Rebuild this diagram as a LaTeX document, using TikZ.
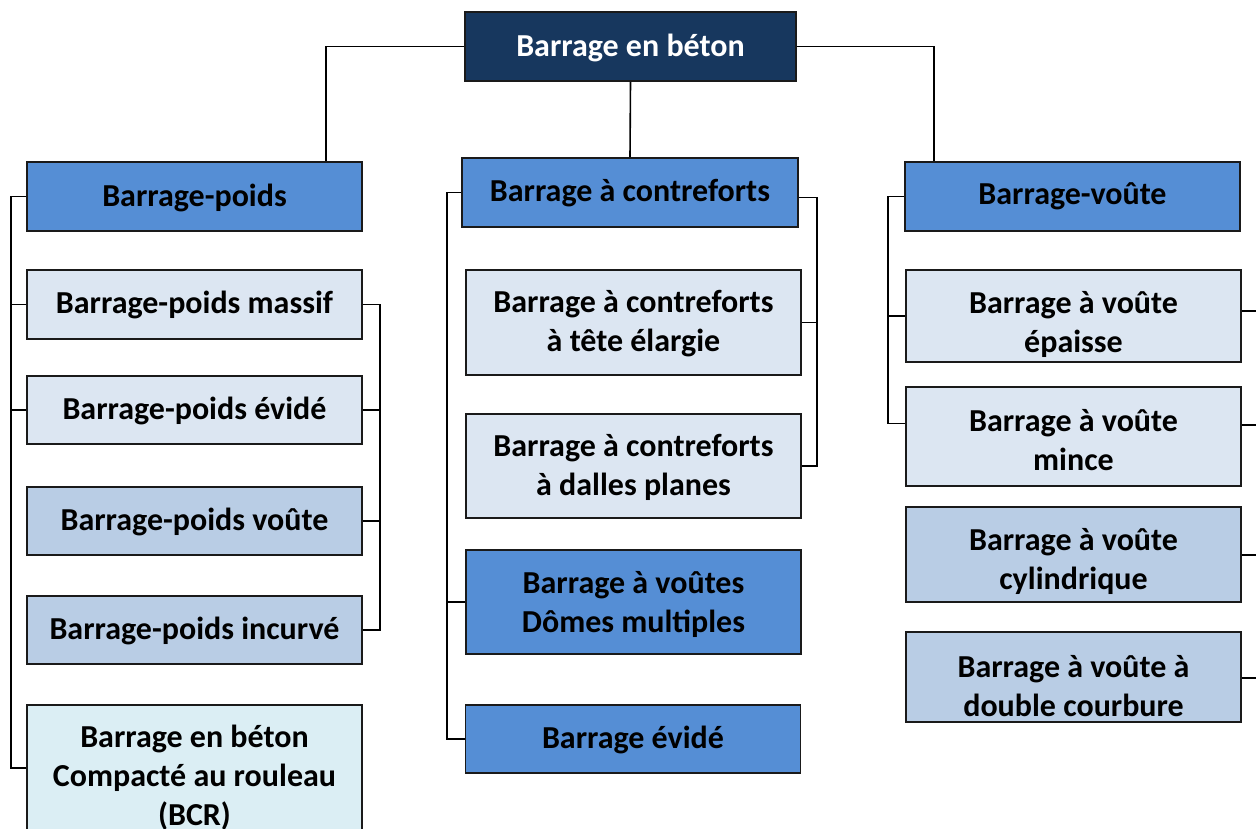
\documentclass[tikz,border=0pt]{standalone}
\usepackage{fontspec}
\setmainfont{Carlito}
\definecolor{rootc}{HTML}{17375E}
\definecolor{midc}{HTML}{558ED5}
\definecolor{lightc}{HTML}{DCE6F2}
\definecolor{medlc}{HTML}{B9CDE5}
\definecolor{bcrc}{HTML}{DBEEF4}
\definecolor{edgec}{HTML}{1A1A1A}
\tikzset{
  boxbase/.style={draw=edgec, line width=1.8pt, inner sep=0pt, rectangle},
  rootbox/.style={boxbase, fill=rootc},
  midbox/.style={boxbase, fill=midc},
  lightbox/.style={boxbase, fill=lightc},
  medlbox/.style={boxbase, fill=medlc},
  bcrbox/.style={boxbase, fill=bcrc},
  lbl/.style={align=center, font=\fontsize{32}{39}\selectfont\bfseries, inner sep=0pt, text=black, yshift=-2.5pt},
  conn/.style={draw=black, line width=1.6pt}
}
\begin{document}
\begin{tikzpicture}[x=1pt,y=-1pt]
\clip (0,0) rectangle (1256,829);
\fill[white] (0,0) rectangle (1256,829);
% root
\node[rootbox, minimum width=331pt, minimum height=69pt] (root) at (630.5,46.5) {};
\node[lbl, text=white] (root-t) at (630.5,45) {Barrage en béton};
% level 1
\node[midbox, minimum width=335pt, minimum height=69pt] (poids) at (194.5,196.5) {};
\node[lbl] (poids-t) at (194.5,195) {Barrage-poids};
\node[midbox, minimum width=336pt, minimum height=69pt] (contre) at (630,192.5) {};
\node[lbl] (contre-t) at (630,191) {Barrage à contreforts};
\node[midbox, minimum width=335pt, minimum height=69pt] (voute) at (1072.5,196.5) {};
\node[lbl] (voute-t) at (1072.5,194) {Barrage-voûte};
% left column
\node[lightbox, minimum width=335pt, minimum height=69pt] (massif) at (194.5,304.5) {};
\node[lbl] (massif-t) at (194.5,302) {Barrage-poids massif};
\node[lightbox, minimum width=335pt, minimum height=68pt] (evide) at (194.5,410) {};
\node[lbl] (evide-t) at (194.5,408) {Barrage-poids évidé};
\node[medlbox, minimum width=335pt, minimum height=68pt] (pvoute) at (194.5,521) {};
\node[lbl] (pvoute-t) at (194.5,519) {Barrage-poids voûte};
\node[medlbox, minimum width=335pt, minimum height=68pt] (incurve) at (194.5,630) {};
\node[lbl] (incurve-t) at (194.5,628) {Barrage-poids incurvé};
\node[bcrbox, minimum width=335pt, minimum height=126pt] (bcr) at (194.5,768) {};
\node[lbl] (bcr-t) at (194.5,775) {Barrage en béton\\Compacté au rouleau\\(BCR)};
% middle column
\node[lightbox, minimum width=335pt, minimum height=105pt] (tete) at (633.5,322.5) {};
\node[lbl] (tete-t) at (633.5,321.5) {Barrage à contreforts\\à tête élargie};
\node[lightbox, minimum width=335pt, minimum height=104pt] (dalles) at (633.5,466) {};
\node[lbl] (dalles-t) at (633.5,464.5) {Barrage à contreforts\\à dalles planes};
\node[midbox, minimum width=335pt, minimum height=104pt] (domes) at (633.5,602) {};
\node[lbl] (domes-t) at (633.5,601.5) {Barrage à voûtes\\Dômes multiples};
\node[midbox, minimum width=335pt, minimum height=68pt] (evide2) at (633,739) {};
\node[lbl] (evide2-t) at (633,737) {Barrage évidé};
% right column
\node[lightbox, minimum width=335pt, minimum height=92pt] (epaisse) at (1073.5,316) {};
\node[lbl] (epaisse-t) at (1073.5,322) {Barrage à voûte\\épaisse};
\node[lightbox, minimum width=335pt, minimum height=99pt] (mince) at (1073.5,436.5) {};
\node[lbl] (mince-t) at (1073.5,437.5) {Barrage à voûte\\mince};
\node[medlbox, minimum width=335pt, minimum height=95pt] (cylind) at (1073.5,554.5) {};
\node[lbl] (cylind-t) at (1073.5,558.5) {Barrage à voûte\\cylindrique};
\node[medlbox, minimum width=335pt, minimum height=90pt] (double) at (1073.5,677) {};
\node[lbl] (double-t) at (1073.5,683.5) {Barrage à voûte à\\double courbure};
% connectors from root
\draw[conn] (root.west) -| ([xshift=131.5pt]poids.north);
\draw[conn] (root.south) -- (contre.north);
\draw[conn] (root.east) -| ([xshift=-138.5pt]voute.north);
% left column brackets
\coordinate (lbx) at (11,0);
\draw[conn] (poids.west) -| (lbx |- bcr.west) -- (bcr.west);
\draw[conn] (massif.west) -- (massif.west -| lbx);
\draw[conn] (evide.west) -- (evide.west -| lbx);
\coordinate (rbx) at (380,0);
\draw[conn] (massif.east) -| (rbx |- incurve.east) -- (incurve.east);
\draw[conn] (evide.east) -- (evide.east -| rbx);
\draw[conn] (pvoute.east) -- (pvoute.east -| rbx);
% middle column brackets
\coordinate (mlx) at (447,0);
\draw[conn] (contre.west) -| (mlx |- evide2.west) -- (evide2.west);
\draw[conn] (domes.west) -- (domes.west -| mlx);
\coordinate (mrx) at (817,0);
\draw[conn] ([yshift=-5pt]contre.east) -| (mrx |- dalles.east) -- (dalles.east);
\draw[conn] (tete.east) -- (tete.east -| mrx);
% right column brackets
\coordinate (rlx) at (888,0);
\coordinate (mincein) at ([yshift=13pt]mince.west);
\draw[conn] (voute.west) -| (rlx |- mincein) -- (mincein);
\draw[conn] (epaisse.west) -- (epaisse.west -| rlx);
\coordinate (edge1) at (1262,311);
\coordinate (edge2) at (1262,425);
\coordinate (edge3) at (1262,555);
\coordinate (edge4) at (1262,678);
\draw[conn] (epaisse.east |- edge1) -- (edge1);
\draw[conn] (mince.east |- edge2) -- (edge2);
\draw[conn] (cylind.east |- edge3) -- (edge3);
\draw[conn] (double.east |- edge4) -- (edge4);
\end{tikzpicture}
\end{document}
